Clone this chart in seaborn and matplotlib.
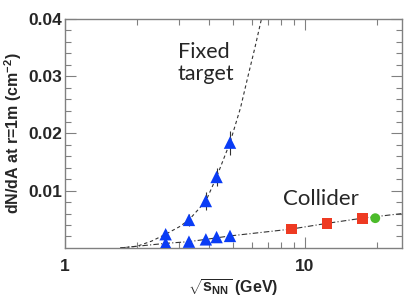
import matplotlib
matplotlib.use("Agg")
import matplotlib.pyplot as plt
import seaborn as sns
import numpy as np
import pandas as pd
from matplotlib.ticker import FixedLocator, NullFormatter, FixedFormatter

# fixed target points (upper and lower sets)
ft_x = [2.63, 3.29, 3.87, 4.29, 4.88]
ft_upper_y = [0.0024, 0.0049, 0.0082, 0.0124, 0.0184]
ft_upper_err = [0.0007, 0.0010, 0.0015, 0.0016, 0.0021]
ft_lower_y = [0.0008, 0.0011, 0.0015, 0.0019, 0.0021]

# collider points
col_x = [8.8, 12.4, 17.4]
col_y = [0.0033, 0.0043, 0.0052]
lhc_x = [19.7]
lhc_y = [0.0052]

# curves
fit_ft_x = [1.7, 2.0, 2.3, 2.63, 3.0, 3.29, 3.87, 4.29, 4.88, 5.4, 5.8, 6.2, 6.6]
fit_ft_y = [0.0, 0.0003, 0.0012, 0.0024, 0.0037, 0.0049, 0.0082, 0.0124, 0.0184,
            0.0245, 0.0300, 0.0350, 0.0400]
fit_col_x = [1.7, 2.0, 2.63, 3.29, 3.87, 4.88, 8.8, 12.4, 17.4, 25.4]
fit_col_y = [0.0, 0.0003, 0.0008, 0.0011, 0.0015, 0.0021, 0.0033, 0.0043, 0.0052, 0.0060]

sns.set_style("ticks")
plt.rcParams['font.family'] = ['Liberation Sans', 'DejaVu Sans']
plt.rcParams['mathtext.fontset'] = 'custom'
plt.rcParams['mathtext.rm'] = 'Liberation Sans:bold'
plt.rcParams['mathtext.it'] = 'Liberation Sans:bold'
plt.rcParams['mathtext.bf'] = 'Liberation Sans:bold'

fig = plt.figure(figsize=(4.15, 3.02), dpi=100)
ax = fig.add_axes([0.1566, 0.179, 0.8114, 0.758])

sns.lineplot(x=fit_ft_x, y=fit_ft_y, ax=ax, color='#333333', lw=0.8,
             linestyle=(0, (3, 2.5)), sort=False)
sns.lineplot(x=fit_col_x, y=fit_col_y, ax=ax, color='#333333', lw=0.8,
             linestyle=(0, (5, 2, 1, 2)), sort=False)

ax.errorbar(ft_x, ft_upper_y, yerr=ft_upper_err, fmt='none', ecolor='#333333',
            elinewidth=0.8, capsize=0)
sns.scatterplot(x=ft_x, y=ft_upper_y, ax=ax, marker='^', color='#0a3cf5', s=80,
                edgecolor='none', zorder=5)
sns.scatterplot(x=ft_x, y=ft_lower_y, ax=ax, marker='^', color='#0a3cf5', s=80,
                edgecolor='none', zorder=5)
sns.scatterplot(x=col_x, y=col_y, ax=ax, marker='s', color='#ee3a22', s=60,
                edgecolor='none', zorder=5)
sns.scatterplot(x=lhc_x, y=lhc_y, ax=ax, marker='o', color='#4cbb2a', s=50,
                edgecolor='none', zorder=5)

ax.set_xscale('log')
ax.set_xlim(1, 25.4)
ax.set_ylim(0, 0.04)

ax.xaxis.set_major_locator(FixedLocator([1, 10]))
ax.xaxis.set_major_formatter(FixedFormatter(['1', '10']))
ax.xaxis.set_minor_locator(FixedLocator([2, 3, 4, 5, 6, 7, 8, 9, 20]))
ax.xaxis.set_minor_formatter(NullFormatter())
ax.set_yticks([0.01, 0.02, 0.03, 0.04])
ax.set_yticklabels(['0.01', '0.02', '0.03', '0.04'])
ax.yaxis.set_minor_locator(FixedLocator(np.arange(0.002, 0.04, 0.002)))

for s in ax.spines.values():
    s.set_visible(True)
    s.set_color('#808080')
    s.set_linewidth(1.0)
ax.tick_params(which='both', direction='in', top=True, right=True,
               color='#808080', width=0.8)
ax.tick_params(which='major', length=8, labelsize=12.5)
ax.tick_params(axis='y', which='major', pad=2)
ax.tick_params(axis='x', which='major', pad=8)
ax.tick_params(which='minor', length=4)
for lab in ax.get_xticklabels() + ax.get_yticklabels():
    lab.set_fontweight('bold')

ax.set_xlabel(r'$\sqrt{s_{NN}}$ (GeV)', fontsize=11.5, fontweight='bold', labelpad=3)
ax.set_ylabel(r'dN/dA at r=1m (cm$^{-2}$)', fontsize=11.5, fontweight='bold', labelpad=3)

ax.text(0.335, 0.9, 'Fixed\ntarget', transform=ax.transAxes, fontsize=15.5,
        family='Lato', va='top', ha='left', linespacing=1.1)
ax.text(0.76, 0.214, 'Collider', transform=ax.transAxes, fontsize=16,
        family='Lato', va='center', ha='center')

fig.savefig('out.png', dpi=100)
